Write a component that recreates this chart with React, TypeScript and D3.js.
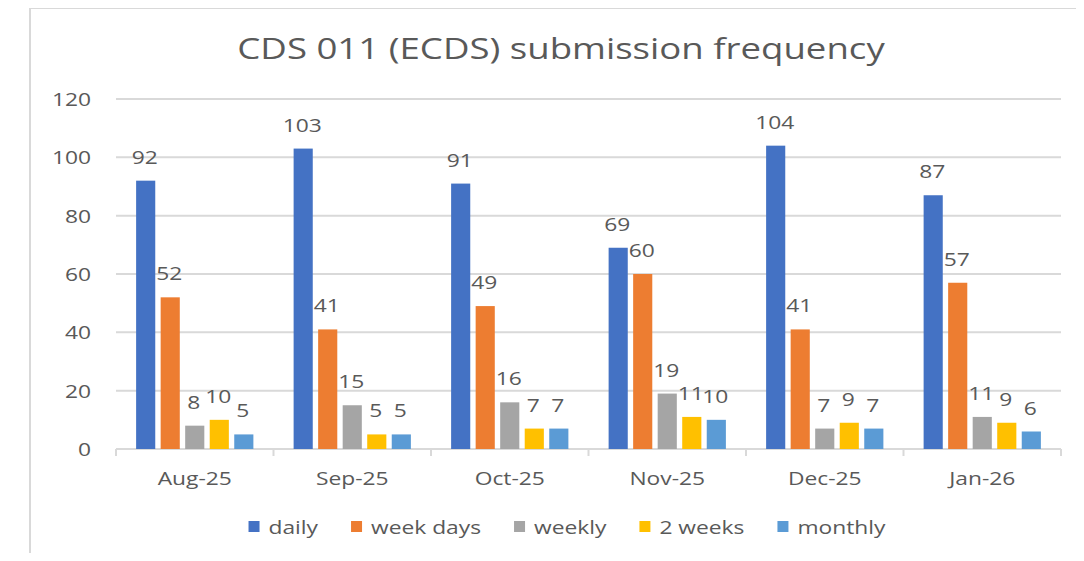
import React, { useRef, useEffect } from 'react';
import * as d3 from 'd3';

const months = ['Aug-25', 'Sep-25', 'Oct-25', 'Nov-25', 'Dec-25', 'Jan-26'];
const seriesNames = ['daily', 'week days', 'weekly', '2 weeks', 'monthly'];
const daily = [92, 103, 91, 69, 104, 87];
const weekDays = [52, 41, 49, 60, 41, 57];
const weekly = [8, 15, 16, 19, 7, 11];
const twoWeeks = [10, 5, 7, 11, 9, 9];
const monthly = [5, 5, 7, 10, 7, 6];
const yTicks = [0, 20, 40, 60, 80, 100, 120];
const colors = ['#4472C4', '#ED7D31', '#A5A5A5', '#FFC000', '#5B9BD5'];

const seriesValues = [daily, weekDays, weekly, twoWeeks, monthly];
const FONT = "'Open Sans', sans-serif";
const TEXT = '#595959';
const SX = 1.2; // the source picture is stretched sideways

const App = () => {
  const ref = useRef(null);

  useEffect(() => {
    const svg = d3.select(ref.current);
    svg.selectAll('*').remove();

    const left = 116, right = 1061, top = 99, bottom = 449;
    const x0 = d3.scaleBand().domain(months).range([left, right]);
    const x1 = d3
      .scaleBand()
      .domain(seriesNames)
      .range([0, x0.bandwidth()])
      .paddingInner(0.22)
      .paddingOuter(0.82);
    const y = d3.scaleLinear().domain([0, 120]).range([bottom, top]);

    // helper for stretched text
    const label = (g, txt, x, yy, size, anchor, sx = SX) =>
      g
        .append('text')
        .attr('transform', `translate(${x},${yy}) scale(${sx},1)`)
        .attr('text-anchor', anchor)
        .attr('font-family', FONT)
        .attr('font-size', size)
        .attr('fill', TEXT)
        .text(txt);

    // chart frame
    svg
      .append('path')
      .attr('d', 'M30,561 V8 H1084')
      .attr('fill', 'none')
      .attr('stroke', '#D9D9D9')
      .attr('stroke-width', 2);

    label(svg, 'CDS 011 (ECDS) submission frequency', 561, 59, 30, 'middle', 1.22);

    // gridlines + y labels
    svg
      .selectAll('.grid')
      .data(yTicks.filter((t) => t > 0))
      .enter()
      .append('line')
      .attr('x1', left)
      .attr('x2', right)
      .attr('y1', (d) => y(d))
      .attr('y2', (d) => y(d))
      .attr('stroke', '#D9D9D9')
      .attr('stroke-width', 2);

    yTicks.forEach((t) => label(svg, String(t), 91, y(t) + 7, 19, 'end'));

    // x axis
    svg
      .append('line')
      .attr('x1', left)
      .attr('x2', right)
      .attr('y1', bottom)
      .attr('y2', bottom)
      .attr('stroke', '#D9D9D9')
      .attr('stroke-width', 2);
    const edges = months.map((m) => x0(m)).concat([right]);
    edges.forEach((e) =>
      svg
        .append('line')
        .attr('x1', e)
        .attr('x2', e)
        .attr('y1', bottom)
        .attr('y2', bottom + 7)
        .attr('stroke', '#D9D9D9')
        .attr('stroke-width', 2)
    );
    months.forEach((m) => label(svg, m, x0(m) + x0.bandwidth() / 2, 485, 19, 'middle'));

    // bars
    seriesNames.forEach((s, si) => {
      const g = svg.append('g');
      g.selectAll('rect')
        .data(seriesValues[si])
        .enter()
        .append('rect')
        .attr('x', (d, i) => x0(months[i]) + x1(s))
        .attr('y', (d) => y(d))
        .attr('width', x1.bandwidth())
        .attr('height', (d) => bottom - y(d))
        .attr('fill', colors[si]);
      seriesValues[si].forEach((v, i) =>
        label(g, String(v), x0(months[i]) + x1(s) + x1.bandwidth() / 2 - 1, y(v) - 17, 19, 'middle')
      );
    });

    // legend
    const lg = svg.append('g');
    const gap = 33;
    let cx = 0;
    seriesNames.forEach((s, si) => {
      lg.append('rect')
        .attr('x', cx)
        .attr('y', 521)
        .attr('width', 11)
        .attr('height', 11)
        .attr('fill', colors[si]);
      const t = label(lg, s, cx + 20, 534, 19, 'start');
      const w = t.node().getComputedTextLength() * SX;
      cx += 20 + w + gap;
    });
    const total = cx - gap;
    lg.attr('transform', `translate(${567 - total / 2},0)`);
  }, []);

  return <svg ref={ref} width={1084} height={561} style={{ display: 'block', margin: '-8px' }} />;
};

export default App;
